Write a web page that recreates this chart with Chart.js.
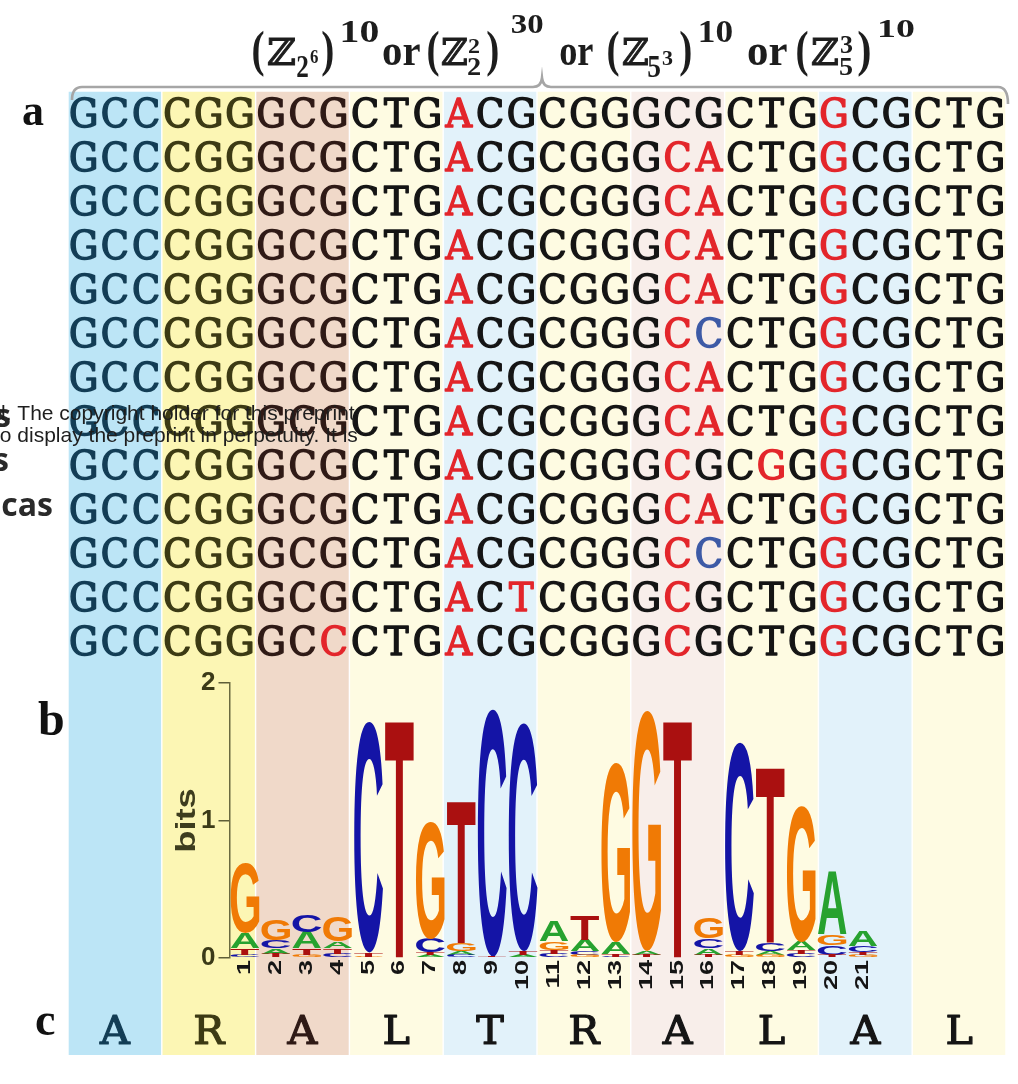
<!DOCTYPE html>
<html><head><meta charset="utf-8">
<script src="https://cdn.jsdelivr.net/npm/chart.js@4.4.1/dist/chart.umd.min.js"></script>
<style>
html,body{margin:0;padding:0;background:#fff;}
#wrap{position:relative;width:1018px;height:1084px;overflow:hidden;background:#fff;}
#wrap canvas{position:absolute;left:0;top:0;}
</style></head><body>
<div id="wrap"><canvas id="main" width="1018" height="1084"></canvas><canvas id="logo" width="1018" height="1084"></canvas></div>
<script>
// ---------------- DATA ----------------
const codons = ['GCC','CGG','GCG','CTG','ACG','CGG','GCG','CTG','GCG','CTG'];
const aminoAcids = ['A','R','A','L','T','R','A','L','A','L'];
const seqRows = [
  'GCCCGGGCGCTGACGCGGGCGCTGGCGCTG',
  'GCCCGGGCGCTGACGCGGGCACTGGCGCTG',
  'GCCCGGGCGCTGACGCGGGCACTGGCGCTG',
  'GCCCGGGCGCTGACGCGGGCACTGGCGCTG',
  'GCCCGGGCGCTGACGCGGGCACTGGCGCTG',
  'GCCCGGGCGCTGACGCGGGCCCTGGCGCTG',
  'GCCCGGGCGCTGACGCGGGCACTGGCGCTG',
  'GCCCGGGCGCTGACGCGGGCACTGGCGCTG',
  'GCCCGGGCGCTGACGCGGGCGCGGGCGCTG',
  'GCCCGGGCGCTGACGCGGGCACTGGCGCTG',
  'GCCCGGGCGCTGACGCGGGCCCTGGCGCTG',
  'GCCCGGGCGCTGACTCGGGCGCTGGCGCTG',
  'GCCCGGGCCCTGACGCGGGCGCTGGCGCTG'
];
// r = red mismatch, b = blue, . = normal
const seqMarks = [
  '............r...........r.....',
  '............r......rr...r.....',
  '............r......rr...r.....',
  '............r......rr...r.....',
  '............r......rr...r.....',
  '............r......rb...r.....',
  '............r......rr...r.....',
  '............r......rr...r.....',
  '............r......r..r.r.....',
  '............r......rr...r.....',
  '............r......rb...r.....',
  '............r.r....r....r.....',
  '........r...r......r....r.....'
];
const logoPositions = ['1','2','3','4','5','6','7','8','9','10','11','12','13','14','15','16','17','18','19','20','21'];
const logoA = [0.11,0.04,0.12,0.05,0.00,0.00,0.02,0.03,0.00,0.02,0.15,0.08,0.08,0.03,0.00,0.05,0.00,0.03,0.06,0.46,0.11];
const logoC = [0.02,0.06,0.12,0.03,1.68,0.00,0.10,0.02,1.80,1.66,0.03,0.03,0.01,0.00,0.00,0.07,1.52,0.06,0.03,0.07,0.05];
const logoG = [0.51,0.15,0.02,0.18,0.01,0.00,0.85,0.06,0.00,0.00,0.06,0.02,1.30,1.75,0.00,0.15,0.02,0.02,0.99,0.08,0.02];
const logoT = [0.05,0.03,0.05,0.04,0.03,1.73,0.02,1.03,0.01,0.03,0.03,0.18,0.02,0.02,1.73,0.02,0.03,1.28,0.03,0.02,0.02];
const bitTicks = [0,1,2];

// ---------------- STYLE ----------------
const bandColors = ['#bce5f6','#fcf6b4','#f0d9c9','#fefbe2','#e2f2fa','#fefbe2','#f8eeea','#fefbe2','#e2f2fa','#fefbe2'];
const inkColors  = ['#133d55','#3c3a14','#2f1a16','#151515','#151515','#151515','#151515','#151515','#151515','#151515'];
const RED = '#e3262b', BLUE = '#3d5aa6';
const letterColors = {A:'#27a22f', C:'#1414a6', G:'#f07a05', T:'#aa1010'};
const SEQF = '"DejaVu Serif", serif';
const SERIF = '"Liberation Serif", "DejaVu Serif", serif';
const SANS = '"Liberation Sans", Arial, sans-serif';

// row units for the alignment
const Y_MIN = -1.557, Y_MAX = 23.08, BAND_TOP = 0.53, BAND_BOTTOM = 22.42, AA_ROW = 21.85;

function fitFont(ctx, family, weight, capPx) {
  ctx.font = weight + ' 100px ' + family;
  const m = ctx.measureText('H');
  return 100 * capPx / m.actualBoundingBoxAscent;
}
function txt(ctx, s, x, y, font, color, opt) {
  opt = opt || {};
  ctx.save();
  ctx.font = font; ctx.fillStyle = color;
  ctx.textAlign = opt.align || 'left'; ctx.textBaseline = 'alphabetic';
  ctx.translate(x, y); ctx.scale(opt.sx || 1, opt.sy || 1);
  ctx.fillText(s, 0, 0);
  if (opt.stroke) { ctx.strokeStyle = color; ctx.lineWidth = opt.stroke; ctx.lineJoin = 'round'; ctx.strokeText(s, 0, 0); }
  ctx.restore();
}
// draw text whose ink spans [x0,x1] horizontally
function txtFit(ctx, s, x0, x1, y, font, color, stroke) {
  ctx.save();
  ctx.font = font;
  const m = ctx.measureText(s);
  const w = m.actualBoundingBoxLeft + m.actualBoundingBoxRight;
  const sx = (x1 - x0) / w;
  ctx.translate(x0, y); ctx.scale(sx, 1);
  ctx.fillStyle = color; ctx.textAlign = 'left'; ctx.textBaseline = 'alphabetic';
  ctx.fillText(s, m.actualBoundingBoxLeft, 0);
  if (stroke) { ctx.strokeStyle = color; ctx.lineWidth = stroke; ctx.strokeText(s, m.actualBoundingBoxLeft, 0); }
  ctx.restore();
}

const seqPlugin = {
  id: 'seqPlugin',
  afterDatasetsDraw(chart) {
    const ctx = chart.ctx, xs = chart.scales.x, ys = chart.scales.y;
    const capH = 28.5;
    const size = fitFont(ctx, SEQF, 'normal', capH);
    const font = size + 'px ' + SEQF;
    ctx.font = font;
    const gw = ctx.measureText('G');
    const sx = 25.5 / (gw.actualBoundingBoxLeft + gw.actualBoundingBoxRight);
    seqRows.forEach((row, r) => {
      const yc = ys.getPixelForValue(r + 1);
      for (let i = 0; i < row.length; i++) {
        const mk = seqMarks[r][i];
        const col = mk === 'r' ? RED : (mk === 'b' ? BLUE : inkColors[Math.floor(i / 3)]);
        txt(ctx, row[i], xs.getPixelForValue(i + 0.5), yc + capH / 2, font, col, {align:'center', sx:sx, stroke:1.5});
      }
    });
    // amino acids
    const ya = ys.getPixelForValue(AA_ROW);
    aminoAcids.forEach((aa, i) => {
      txt(ctx, aa, xs.getPixelForValue(i * 3 + 1.5), ya + capH / 2, font, inkColors[i], {align:'center', sx:sx * 1.12, stroke:1.2});
    });

    // header formula: [text, inkLeft, inkRight, baseline, font]
    const dark = '#1d1d1d';
    const Z = '\u2124';
    const P = 'bold 50px ' + SERIF, ZF = '37px "DejaVu Serif", serif', OR = 'bold 44px ' + SERIF;
    const D = s => 'bold ' + s + 'px ' + SERIF;
    const header = [
      ['(',253,264,66,P],[Z,268,295,65,ZF],['2',297,308,77,D(32)],['6',310,318,63,D(19)],[')',322,333,66,P],['10',342,378,42,D(32)],
      ['or',383,420,65,OR],
      ['(',428,439,66,P],[Z,442,467,65,ZF],['2',468,480,53,D(22)],['2',468,480,75,D(26)],[')',487,498,66,P],['30',512,543,33,D(27)],
      ['or',560,593,65,OR],
      ['(',608,619,66,P],[Z,623,648,65,ZF],['5',648,660,77,D(32)],['3',662,673,65,D(20)],[')',680,691,66,P],['10',700,732,42,D(32)],
      ['or',748,787,65,OR],
      ['(',797,808,66,P],[Z,812,838,65,ZF],['3',840,853,53,D(26)],['5',840,853,75,D(26)],[')',858,870,66,P],['10',880,915,37,D(26)]
    ];
    header.forEach(h => txtFit(ctx, h[0], h[1], h[2], h[3], h[4], dark, h[0] === Z ? 0.9 : 0));

    // brace
    ctx.save();
    ctx.strokeStyle = '#a6a6a6'; ctx.lineWidth = 2.6;
    ctx.beginPath();
    ctx.moveTo(72, 100);
    ctx.quadraticCurveTo(72, 87, 82, 87);
    ctx.lineTo(533, 87);
    ctx.quadraticCurveTo(541, 87, 542, 78);
    ctx.quadraticCurveTo(543, 87, 551, 87);
    ctx.lineTo(998, 87);
    ctx.quadraticCurveTo(1008, 87, 1008, 104);
    ctx.stroke();
    ctx.restore();

    // panel labels
    txt(ctx, 'a', 22, 125, 'bold 44px ' + SERIF, '#111');
    txt(ctx, 'b', 38, 735, 'bold 48px ' + SERIF, '#111');
    txt(ctx, 'c', 35, 1035, 'bold 46px ' + SERIF, '#111');

    // cut-off labels
    const lf = 'bold 32px "Open Sans", ' + SANS;
    txt(ctx, 's', 11, 427, lf, '#2a2a2a', {align:'right'});
    txt(ctx, 's', 9, 471, lf, '#2a2a2a', {align:'right'});
    txt(ctx, 'cas', 53, 516, lf, '#2a2a2a', {align:'right'});

    // overlay text
    txt(ctx, 'd. The copyright holder for this preprint', -6, 420, '21px ' + SANS, '#1e1e1e');
    txt(ctx, 'to display the preprint in perpetuity. It is', -6, 442, '21px ' + SANS, '#1e1e1e');
  }
};

new Chart(document.getElementById('main'), {
  type: 'bar',
  data: {
    datasets: [{
      data: codons.map((c, i) => ({x: i * 3 + 1.5, y: [BAND_TOP, BAND_BOTTOM]})),
      backgroundColor: bandColors,
      borderWidth: 0,
      barPercentage: 0.985,
      categoryPercentage: 1
    }]
  },
  options: {
    responsive: false, animation: false, events: [],
    layout: {padding: {left: 68, right: 12, top: 0, bottom: 0}},
    plugins: {legend: {display: false}, tooltip: {enabled: false}},
    scales: {
      x: {type: 'linear', min: 0, max: 30, display: false, offset: false},
      y: {type: 'linear', min: Y_MIN, max: Y_MAX, reverse: true, display: false}
    }
  },
  plugins: [seqPlugin]
});

// ---------------- LOGO ----------------
const logoLetters = {A: logoA, C: logoC, G: logoG, T: logoT};
function stackIntervals(letter) {
  return logoPositions.map((p, i) => {
    const items = Object.keys(logoLetters).map(L => ({L, h: logoLetters[L][i]})).filter(o => o.h > 0);
    items.sort((a, b) => a.h - b.h);
    let base = 0;
    for (const o of items) {
      if (o.L === letter) return [base, base + o.h];
      base += o.h;
    }
    return null;
  });
}

function drawStretched(ctx, ch, x, y, w, h, color) {
  ctx.save();
  ctx.font = 'bold 200px ' + SANS;
  const m = ctx.measureText(ch);
  const gw = m.actualBoundingBoxLeft + m.actualBoundingBoxRight;
  const gh = m.actualBoundingBoxAscent + m.actualBoundingBoxDescent;
  ctx.translate(x, y);
  ctx.scale(w / gw, h / gh);
  ctx.fillStyle = color;
  ctx.textBaseline = 'alphabetic'; ctx.textAlign = 'left';
  ctx.fillText(ch, m.actualBoundingBoxLeft, m.actualBoundingBoxAscent);
  ctx.restore();
}

const logoPlugin = {
  id: 'logoPlugin',
  afterDatasetsDraw(chart) {
    const ctx = chart.ctx;
    chart.data.datasets.forEach((ds, di) => {
      const meta = chart.getDatasetMeta(di);
      meta.data.forEach((el, i) => {
        if (!ds.data[i]) return;
        const p = el.getProps(['x', 'y', 'base', 'width'], true);
        const top = Math.min(p.y, p.base), h = Math.abs(p.base - p.y);
        if (h < 0.6) return;
        drawStretched(ctx, ds.label, p.x - p.width / 2, top, p.width, h, letterColors[ds.label]);
      });
    });
    // x tick labels (rotated, stretched)
    const xs = chart.scales.x, y0 = chart.chartArea.bottom + 2;
    logoPositions.forEach((lab, i) => {
      const x = xs.getPixelForValue(i);
      ctx.save();
      ctx.translate(x, y0);
      ctx.rotate(-Math.PI / 2);
      ctx.scale(1.5, 1);
      ctx.font = 'bold 18px ' + SANS;
      ctx.fillStyle = '#151515';
      ctx.textAlign = 'right'; ctx.textBaseline = 'middle';
      ctx.fillText(lab, 0, 0);
      ctx.restore();
    });
    // y axis title "bits" (rotated, stretched)
    const ys = chart.scales.y;
    ctx.save();
    ctx.translate(195, ys.getPixelForValue(1));
    ctx.rotate(-Math.PI / 2);
    ctx.scale(1.3, 1);
    ctx.font = 'bold 28px ' + SANS;
    ctx.fillStyle = '#3e3d1e';
    ctx.textAlign = 'center'; ctx.textBaseline = 'alphabetic';
    ctx.fillText('bits', 0, 0);
    ctx.restore();
  }
};

new Chart(document.getElementById('logo'), {
  type: 'bar',
  data: {
    labels: logoPositions,
    datasets: Object.keys(logoLetters).map(L => ({
      label: L,
      data: stackIntervals(L),
      backgroundColor: 'rgba(0,0,0,0)',
      borderWidth: 0,
      grouped: false,
      barPercentage: 0.93,
      categoryPercentage: 1
    }))
  },
  options: {
    responsive: false, animation: false, events: [],
    layout: {padding: {left: 169.5, right: 139.5, top: 683, bottom: 66}},
    plugins: {legend: {display: false}, tooltip: {enabled: false}},
    scales: {
      x: {
        type: 'category', offset: true,
        grid: {display: false, drawTicks: false},
        border: {display: false},
        ticks: {display: false},
        afterFit: s => { s.height = 60; }
      },
      y: {
        min: 0, max: 2,
        afterBuildTicks: s => { s.ticks = bitTicks.map(v => ({value: v})); },
        ticks: {font: {family: SANS, size: 26, weight: 'bold'}, color: '#3b3a18', padding: 3},
        grid: {display: true, drawOnChartArea: false, drawTicks: true, tickLength: 11, color: '#5e5e38', lineWidth: 1.5},
        border: {display: true, color: '#6a6a40', width: 1.5},
        title: {display: false},
        afterFit: s => { s.width = 60; }
      }
    }
  },
  plugins: [logoPlugin]
});
</script>
</body></html>
